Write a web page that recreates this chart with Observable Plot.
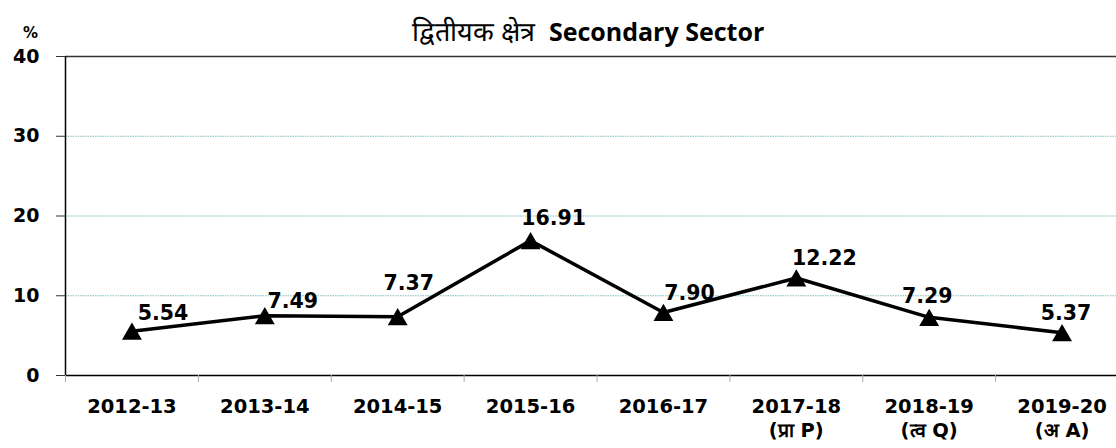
<!DOCTYPE html>
<html>
<head>
<meta charset="utf-8">
<script src="https://cdn.jsdelivr.net/npm/d3@7"></script>
<script src="https://cdn.jsdelivr.net/npm/@observablehq/plot@0.6"></script>
<style>
  html, body { margin: 0; padding: 0; background: #fff; overflow: hidden; width: 1116px; height: 448px; }
  #wrap { position: relative; width: 1116px; height: 448px; overflow: hidden; }
  #title { position: absolute; left: 0; width: 1176px; top: 12px; height: 38px; line-height: 38px; text-align: center; font-family: "Open Sans", sans-serif; color: #000; white-space: pre; }
  #title .hi { font-weight: normal; font-size: 27px; margin-right: 10px; }
  #title .en { font-weight: bold; font-size: 25px; }
  #pct { position: absolute; left: 23px; top: 25px; line-height: 17px; font-family: "DejaVu Sans", sans-serif; font-weight: bold; font-size: 15px; }
  #chart { position: absolute; left: 0; top: 0; width: 1128px; }
  #chart svg { max-width: none !important; width: 1128px !important; height: 448px !important; }
</style>
</head>
<body>
<div id="wrap">
  <div id="chart"></div>
  <div id="title"><span class="hi">द्वितीयक क्षेत्र</span> <span class="en">Secondary Sector</span></div>
  <div id="pct">%</div>
</div>
<script>
const years = ["2012-13","2013-14","2014-15","2015-16","2016-17","2017-18","2018-19","2019-20"];
const yearNotes = ["","","","","","(प्रा P)","(त्व Q)","(अ A)"];
const values = [5.54, 7.49, 7.37, 16.91, 7.90, 12.22, 7.29, 5.37];
const yTicks = [0, 10, 20, 30, 40];

// label placement (layout only)
const labelDx = [31, 28, 11, 23, 26, 28, -2, 4];
const labelDy = [-18, -14, -33, -22, -19, -20, -21, -19];

const data = years.map((y, i) => ({idx: i, year: y, value: values[i], note: yearNotes[i], dx: labelDx[i], dy: labelDy[i]}));
const catIdx = years.map((y, i) => i);
const bounds = years.map((y, i) => i - 0.5).concat([years.length - 0.5]);

const font = "'DejaVu Sans', Verdana, sans-serif";

const textMarks = data.map(d => Plot.text([d], {
  x: "idx", y: "value", text: d => d.value.toFixed(2),
  dx: d.dx, dy: d.dy, fontSize: 20.5, fontWeight: "bold", fill: "#000"
}));

const chart = Plot.plot({
  width: 1128,
  height: 448,
  marginLeft: 65,
  marginRight: 0,
  marginTop: 56,
  marginBottom: 73,
  style: {fontFamily: font, background: "transparent", overflow: "visible", maxWidth: "none"},
  x: {type: "linear", domain: [-0.5, years.length - 0.5], label: null},
  y: {domain: [0, 40], label: null},
  marks: [
    Plot.ruleY([10, 20, 30], {stroke: "#7fbfbf", strokeWidth: 1, strokeDasharray: "1.5,1"}),
    Plot.ruleY([40], {stroke: "#333", strokeWidth: 1.5}),
    Plot.ruleY([0], {stroke: "#000", strokeWidth: 1.5}),
    Plot.ruleX([-0.5], {y1: 0, y2: 40, stroke: "#000", strokeWidth: 1.5}),
    Plot.axisY({ticks: yTicks, tickSize: 9, tickPadding: 17, fontSize: 19, fontWeight: "bold", stroke: "#333", color: "#000", label: null}),
    Plot.axisX({ticks: bounds, tickSize: 7, tickFormat: () => "", stroke: "#aaa", label: null}),
    Plot.axisX({ticks: catIdx, tickSize: 0, tickPadding: 20, fontSize: 19.5, fontWeight: "bold", label: null,
      tickFormat: i => yearNotes[i] ? years[i] + "\n" + yearNotes[i] : years[i], lineHeight: 1.25}),
    Plot.lineY(data, {x: "idx", y: "value", stroke: "#000", strokeWidth: 3.5}),
    Plot.dot(data, {x: "idx", y: "value", symbol: "triangle", r: 7.4, dy: 2.8, fill: "#000", stroke: "none"}),
    ...textMarks
  ]
});
document.getElementById("chart").appendChild(chart);
</script>
</body>
</html>
